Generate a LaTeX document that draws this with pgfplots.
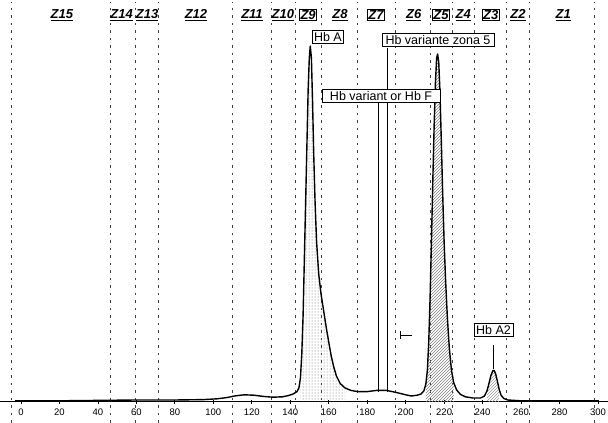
\documentclass[border=0pt]{standalone}
\usepackage{fontspec}
\setmainfont{Liberation Sans}
\usepackage{pgfplots}
\usepackage{pgfplotstable}
\pgfplotsset{compat=1.18}
\usetikzlibrary{patterns}

% electropherogram trace
\pgfplotstableread{
x y
-3 0.3
0 0.3
20 0.3
40 0.4
60 0.5
80 0.5
95 0.6
102 0.8
107 1.1
111 1.5
116 1.8
121 1.7
126 1.4
131 1.2
136 1.3
139 1.6
141.5 2.0
143.5 2.6
144.5 3.5
145.3 6
146 12
146.7 22
147.3 35
148 50
148.7 65
149.3 78
149.9 86
150.4 89
151 86
151.6 75
152.2 62
152.9 50
153.7 40
154.8 32
156 27
157.3 23
158.6 19
160 15
161.3 11.5
162.6 8.8
164 6.5
166 4.6
168.5 3.5
171.5 2.9
175 2.6
180 2.6
185 2.9
190 2.9
195 2.4
200 1.8
203 1.5
206 1.7
208 2.0
209.5 2.8
210.5 4.5
211.3 8
212 15
212.7 26
213.4 40
214.1 55
214.8 69
215.5 80
216.1 86
216.6 87
217.2 85
217.8 78
218.5 66
219.2 53
220 40
220.8 30
221.7 21
222.7 13.5
223.8 8
225 4.8
226.5 3
228.5 1.9
231 1.3
235 1
239 1
241 1.5
242.3 2.8
243.3 4.6
244.3 6.6
245.3 7.8
246 7.9
246.8 7
247.7 5.2
248.6 3.2
249.6 1.7
251 0.9
253 0.5
260 0.3
280 0.3
300 0.3
}\trace

\pgfplotstableread{
x y
145.3 6
146 12
146.7 22
147.3 35
148 50
148.7 65
149.3 78
149.9 86
150.4 89
151 86
151.6 75
152.2 62
152.9 50
153.7 40
154.8 32
156 27
157.3 23
158.6 19
160 15
161.3 11.5
162.6 8.8
164 6.5
166 4.6
168.5 3.5
}\hbapeak

\pgfplotstableread{
x y
210.5 4.5
211.3 8
212 15
212.7 26
213.4 40
214.1 55
214.8 69
215.5 80
216.1 86
216.6 87
217.2 85
217.8 78
218.5 66
219.2 53
220 40
220.8 30
221.7 21
222.7 13.5
223.8 8
225 4.8
}\varpeak

\pgfplotstableread{
x y
242.3 2.8
243.3 4.6
244.3 6.6
245.3 7.8
246 7.9
246.8 7
247.7 5.2
248.6 3.2
}\atwopeak

\begin{document}
\begin{tikzpicture}[
    zone/.style={black!75, line width=1pt, dash pattern=on 2.5pt off 5pt},
    lab/.style={font=\fontsize{13}{14}\bfseries\itshape\selectfont, inner sep=1pt},
    boxlab/.style={font=\fontsize{12.5}{14}\selectfont, draw=black, line width=0.8pt, fill=white, inner sep=2pt},
]
\useasboundingbox (0,0) rectangle (608pt,423pt);
\clip (0,0) rectangle (608pt,423pt);
\begin{axis}[
    at={(0,0)}, anchor=south west,
    width=608pt, height=423pt, scale only axis,
    xmin=-10.9, xmax=305.2,
    ymin=-5.25, ymax=100.5,
    axis x line=middle, axis y line=none,
    axis line style={-, line width=1pt},
    xtick={0,20,...,300},
    ytick=\empty,
    tick style={black, line width=0.7pt},
    major tick length=4pt,
    tick align=center,
    xticklabel style={font=\fontsize{9.5}{10}\selectfont, yshift=-1.5pt},
    /pgf/number format/assume math mode=true,
    clip=false,
]
% zone boundaries
\pgfplotsinvokeforeach{-4.68,46.8,59.8,71.76,109.72,130,142.49,156.01,174.73,194.49,212.69,224.13,235.57,252.21,264.17,297.97}{
  \addplot[zone] coordinates {(#1,-5.25) (#1,100)};
}

% shaded peak areas
\addplot[draw=none, pattern=dots, pattern color=black!60] table {\hbapeak} \closedcycle;
\addplot[draw=none, pattern=north east lines, pattern color=black!50] table {\varpeak} \closedcycle;
\addplot[draw=none, pattern=north east lines, pattern color=black!40] table {\atwopeak} \closedcycle;

% trace
\addplot[black, line width=1.4pt, line join=round] table {\trace};

% Hb F marker lines and leaders
\addplot[black, line width=0.8pt] coordinates {(185.6,74.75) (185.6,2.5)};
\addplot[black, line width=0.8pt] coordinates {(190.3,88.5) (190.3,2.5)};
\addplot[black, line width=0.8pt] coordinates {(245.6,14.3) (245.6,8.2)};
\addplot[black, line width=0.7pt] coordinates {(197.1,16.75) (203.3,16.75)};
\addplot[black, line width=0.7pt] coordinates {(197.1,15.75) (197.1,17.75)};

% annotation boxes
\node[boxlab, minimum width=31pt] at (axis cs:159.6,91.3) {Hb A};
\node[boxlab, minimum width=112pt] at (axis cs:216.8,90.5) {Hb variante zona 5};
\node[boxlab, minimum width=118pt] at (axis cs:187.2,76.6) {Hb variant or Hb F};
\node[boxlab, minimum width=37pt] at (axis cs:245.7,18) {Hb A2};

% zone labels
\node[lab] at (axis cs:21.3,96.75) {\underline{Z15}};
\node[lab] at (axis cs:52.3,96.75) {\underline{Z14}};
\node[lab] at (axis cs:65.6,96.75) {\underline{Z13}};
\node[lab] at (axis cs:91,96.75) {\underline{Z12}};
\node[lab] at (axis cs:120.1,96.75) {\underline{Z11}};
\node[lab] at (axis cs:136.2,96.75) {\underline{Z10}};
\node[lab, draw=black, line width=0.8pt] at (axis cs:149.3,96.75) {Z9};
\node[lab] at (axis cs:165.9,96.75) {\underline{Z8}};
\node[lab, draw=black, line width=0.8pt] at (axis cs:184.6,96.75) {Z7};
\node[lab] at (axis cs:204.2,96.75) {\underline{Z6}};
\node[lab, draw=black, line width=0.8pt] at (axis cs:218.4,96.75) {Z5};
\node[lab] at (axis cs:229.9,96.75) {\underline{Z4}};
\node[lab, draw=black, line width=0.8pt] at (axis cs:244.2,96.75) {Z3};
\node[lab] at (axis cs:258.4,96.75) {\underline{Z2}};
\node[lab] at (axis cs:281.9,96.75) {\underline{Z1}};
\end{axis}
\end{tikzpicture}
\end{document}
